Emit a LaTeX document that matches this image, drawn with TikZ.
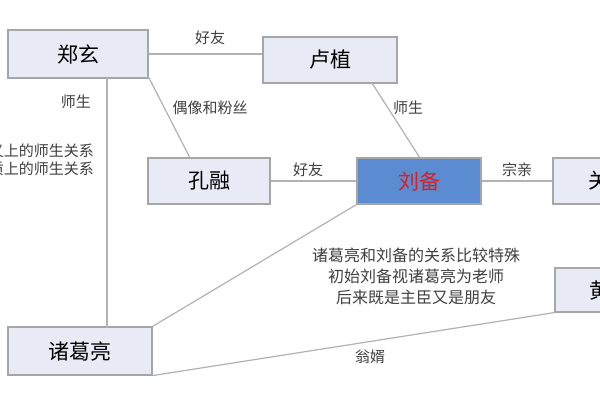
\documentclass[tikz,border=0pt]{standalone}
\usepackage{fontspec}
\newfontfamily\cjk{Noto Sans CJK SC}
\begin{document}
\begin{tikzpicture}[x=0.5pt,y=-0.5pt,
  box/.style={draw=gray!70,fill={rgb,255:red,232;green,235;blue,245},line width=0.6pt,inner sep=0,font=\cjk\fontsize{10.5}{12}\selectfont},
  ln/.style={draw=gray!60,line width=0.6pt},
  lbl/.style={font=\cjk\fontsize{7.5}{9}\selectfont,text=black!75}]
\useasboundingbox (0,0) rectangle (600,400);
\clip (0,0) rectangle (600,400);
\fill[white] (0,0) rectangle (600,400);
\node[box,minimum width=70pt,minimum height=24pt] (zx) at (78,54) {郑玄};
\node[box,minimum width=67pt,minimum height=23pt] (lz) at (330,60) {卢植};
\node[box,minimum width=61pt,minimum height=23pt] (kr) at (209,181) {孔融};
\node[box,fill={rgb,255:red,91;green,139;blue,208},text={rgb,255:red,220;green,30;blue,30},minimum width=62pt,minimum height=23pt] (lb) at (419,181) {刘备};
\node[box,minimum width=60pt,minimum height=23pt] (gy) at (613,181) {\hspace*{-4pt}关羽};
\node[box,minimum width=60pt,minimum height=22pt] (hcy) at (615,290) {\hspace*{6pt}黄承彦};
\node[box,minimum width=72pt,minimum height=24pt] (zgl) at (80,351) {诸葛亮};
\coordinate (zxb) at (107,78);
\coordinate (zglt) at (107,328);
\draw[ln] (zx.east) -- (lz.west |- zx.east);
\draw[ln] (zxb) -- (zglt);
\draw[ln] (148,76) -- (190,158);
\draw[ln] (372,83) -- (420,158);
\draw[ln] (kr) -- (lb);
\draw[ln] (lb) -- (gy);
\draw[ln] (lb.south west) -- (zgl.north east);
\draw[ln] (zgl.south east) -- (hcy.south west);
\node[lbl] (l1) at (210,38) {好友};
\node[lbl] (l2) at (76,102) {师生};
\node[lbl,anchor=east,align=right] (l3) at (101,160) {名义上的师生关系\\实质上的师生关系};
\node[lbl] (l4) at (210,108) {偶像和粉丝};
\node[lbl] (l5) at (408,108) {师生};
\node[lbl] (l6) at (308,170) {好友};
\node[lbl] (l7) at (517,170) {宗亲};
\node[lbl,align=center,font=\cjk\fontsize{8}{10.5}\selectfont] (l8) at (416,276) {诸葛亮和刘备的关系比较特殊\\初始刘备视诸葛亮为老师\\后来既是主臣又是朋友};
\node[lbl] (l9) at (370,357) {翁婿};
\end{tikzpicture}
\end{document}
